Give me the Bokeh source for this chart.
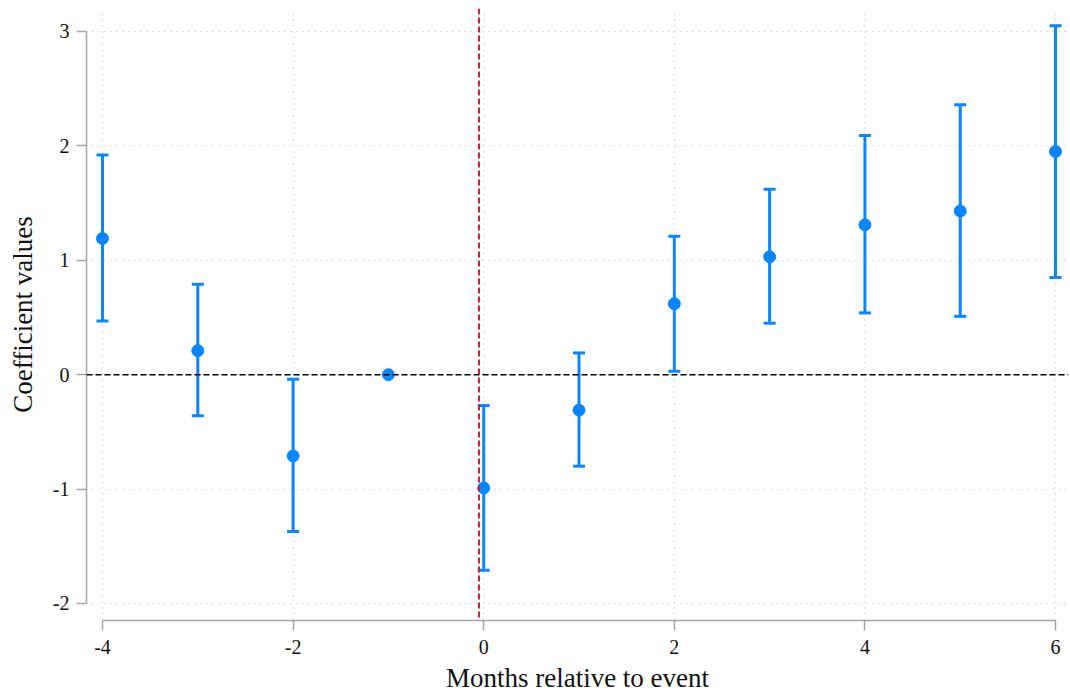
from bokeh.plotting import figure
from bokeh.models import ColumnDataSource, Whisker, TeeHead, Span, FixedTicker, Range1d
from bokeh.embed import file_html
from bokeh.resources import INLINE

months = [-4, -3, -2, -1, 0, 1, 2, 3, 4, 5, 6]
coef = [1.19, 0.21, -0.71, 0.0, -0.99, -0.31, 0.62, 1.03, 1.31, 1.43, 1.95]
ci_low = [0.47, -0.36, -1.37, 0.0, -1.71, -0.80, 0.03, 0.45, 0.54, 0.51, 0.85]
ci_high = [1.92, 0.79, -0.04, 0.0, -0.27, 0.19, 1.21, 1.62, 2.09, 2.36, 3.05]
event_line = -0.05
x_ticks = [-4, -2, 0, 2, 4, 6]
y_ticks = [-2, -1, 0, 1, 2, 3]

BLUE = "#0a85ff"
AXC = "#a6a6a6"
FONT = "Liberation Serif"

p = figure(width=1070, height=698, output_backend="svg", toolbar_location=None,
           x_range=Range1d(-4.168, 6.136), y_range=Range1d(-2.149, 3.201),
           min_border_left=86, min_border_right=2, min_border_top=8, min_border_bottom=78)
p.outline_line_color = None
p.background_fill_color = "white"

for g in (p.xgrid, p.ygrid):
    g.grid_line_color = "#bdbdbd"
    g.grid_line_dash = "1 5"
    g.grid_line_width = 1.2

# error bars (skip the reference period with no interval)
wx, wl, wh = [], [], []
for m, lo, hi in zip(months, ci_low, ci_high):
    if hi - lo > 0:
        wx.append(m); wl.append(lo); wh.append(hi)
wsrc = ColumnDataSource(dict(x=wx, lower=wl, upper=wh))
w = Whisker(source=wsrc, base="x", lower="lower", upper="upper", dimension="height",
            line_color=BLUE, line_width=3,
            lower_head=TeeHead(size=12, line_color=BLUE, line_width=3),
            upper_head=TeeHead(size=12, line_color=BLUE, line_width=3))
p.add_layout(w)

p.add_layout(Span(location=0, dimension="width", line_color="black", line_width=1.5,
                  line_dash="6 3"))
p.add_layout(Span(location=event_line, dimension="height", line_color="#d21a3c",
                  line_width=2, line_dash="6 3"))

src = ColumnDataSource(dict(x=months, y=coef))
p.scatter("x", "y", source=src, size=12, color=BLUE, line_color=BLUE)

# axes
p.xaxis.ticker = FixedTicker(ticks=x_ticks)
p.yaxis.ticker = FixedTicker(ticks=y_ticks)
p.xaxis.major_label_overrides = {t: str(t) for t in x_ticks}
p.yaxis.major_label_overrides = {t: str(t) for t in y_ticks}
p.xaxis.bounds = (min(x_ticks), max(x_ticks))
p.yaxis.bounds = (min(y_ticks), max(y_ticks))
for ax in (p.xaxis, p.yaxis):
    ax.axis_line_color = AXC
    ax.axis_line_width = 1.5
    ax.major_tick_line_color = AXC
    ax.major_tick_line_width = 1.5
    ax.major_tick_in = 0
    ax.major_tick_out = 10
    ax.minor_tick_line_color = None
    ax.major_label_text_font = FONT
    ax.major_label_text_font_size = "20px"
    ax.major_label_text_color = "#111111"
    ax.axis_label_text_font = FONT
    ax.axis_label_text_font_size = "27px"
    ax.axis_label_text_font_style = "normal"
    ax.axis_label_text_color = "#111111"
p.xaxis.axis_label = "Months relative to event"
p.yaxis.axis_label = "Coefficient values"
p.yaxis.major_label_orientation = "horizontal"
p.xaxis.major_label_standoff = 9
p.yaxis.major_label_standoff = 7
p.xaxis.axis_label_standoff = 6
p.yaxis.axis_label_standoff = 12

open("out.html", "w").write(file_html(p, INLINE))
